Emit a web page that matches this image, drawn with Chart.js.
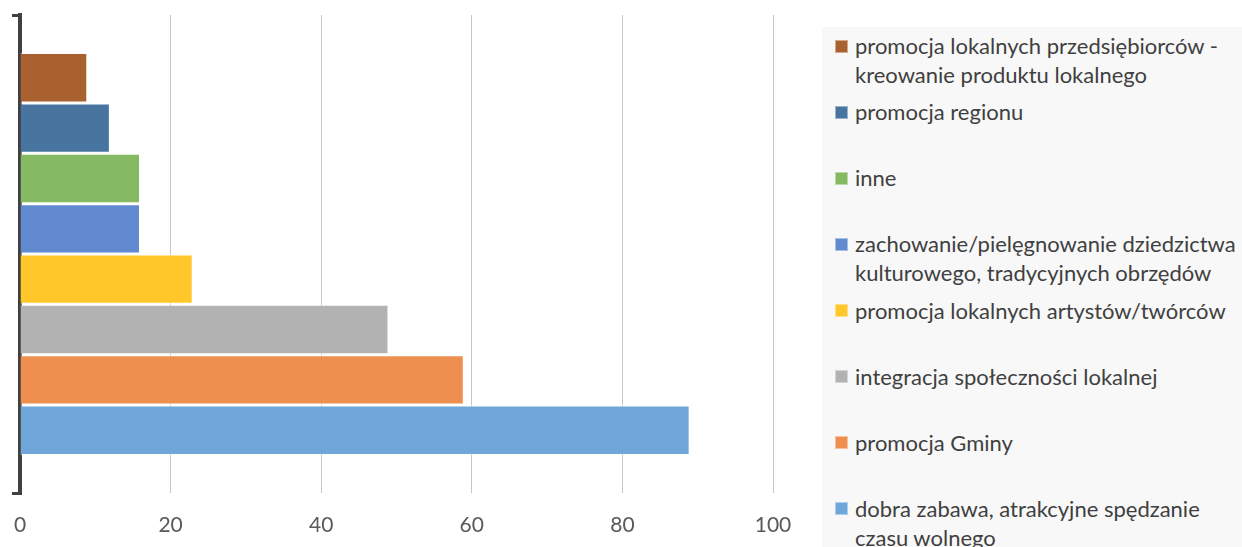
<!DOCTYPE html>
<html>
<head>
<meta charset="utf-8">
<script src="https://cdn.jsdelivr.net/npm/chart.js@4.4.1/dist/chart.umd.min.js"></script>
<style>
  body { margin: 0; background: #fff; }
  #wrap { position: relative; width: 1242px; height: 547px; overflow: hidden; }
  #myChart { position: absolute; left: 0; top: 0; }
  #legend {
    position: absolute; left: 822px; top: 27px; width: 420px; height: 520px;
    background: #f8f8f8; font-family: Lato, sans-serif; font-size: 22px;
    color: #404040; line-height: 29px;
  }
  .item { position: relative; height: 66.14px; box-sizing: border-box; padding: 4px 0 0 33px; white-space: nowrap; }
  .box { position: absolute; left: 13px; top: 12.5px; width: 13px; height: 13px; box-sizing: border-box; border: 1px solid rgba(255,255,255,0.45); }
</style>
</head>
<body>
<div id="wrap">
  <canvas id="myChart" width="1242" height="547"></canvas>
  <div id="legend"></div>
</div>
<script>
// one category, each answer is its own dataset (top to bottom)
var labels = [
  ["promocja lokalnych przedsiębiorców -", "kreowanie produktu lokalnego"],
  ["promocja regionu"],
  ["inne"],
  ["zachowanie/pielęgnowanie dziedzictwa", "kulturowego, tradycyjnych obrzędów"],
  ["promocja lokalnych artystów/twórców"],
  ["integracja społeczności lokalnej"],
  ["promocja Gminy"],
  ["dobra zabawa, atrakcyjne spędzanie", "czasu wolnego"]
];
var values = [9, 12, 16, 16, 23, 49, 59, 89];
var barColors = ["#a9622f", "#4775a0", "#85b962", "#628ad0", "#ffc729", "#b2b2b2", "#ee8f4f", "#70a7da"];
var xTicks = [0, 20, 40, 60, 80, 100];

var datasets = [];
for (var i = 0; i < values.length; i++) {
  datasets.push({
    label: labels[i].join(" "),
    data: [values[i]],
    backgroundColor: barColors[i],
    borderColor: "rgba(255,255,255,0.45)",
    borderWidth: 1.5,
    categoryPercentage: 0.843,
    barPercentage: 1
  });
}

var ctx = document.getElementById("myChart");
var myChart = new Chart(ctx, {
  type: "bar",
  data: { labels: [""], datasets: datasets },
  options: {
    indexAxis: "y",
    responsive: false,
    animation: false,
    layout: { padding: { left: 12, top: 15, right: 469, bottom: 9 } },
    plugins: { legend: { display: false }, tooltip: { enabled: false } },
    scales: {
      x: {
        min: xTicks[0], max: xTicks[xTicks.length - 1],
        z: 1,
        afterBuildTicks: function (axis) { axis.ticks = xTicks.map(function (v) { return { value: v }; }); },
        afterFit: function (axis) { axis.height = 45; axis.paddingLeft = 0; axis.paddingRight = 0; },
        grid: { color: "rgba(128,128,128,0.45)", lineWidth: 1, drawTicks: false },
        border: { display: false },
        ticks: { padding: 20, color: "#595959", font: { family: "Lato", size: 21 } }
      },
      y: {
        z: 2,
        ticks: { display: false },
        grid: { drawOnChartArea: false, drawTicks: true, tickLength: 8, tickWidth: 3, lineWidth: 3, color: "#404040" },
        border: { display: true, width: 4, color: "#404040" }
      }
    }
  }
});

// legend on the right
var leg = document.getElementById("legend");
for (var j = 0; j < labels.length; j++) {
  var it = document.createElement("div");
  it.className = "item";
  var b = document.createElement("span");
  b.className = "box";
  b.style.background = barColors[j];
  it.appendChild(b);
  it.appendChild(document.createTextNode(labels[j][0]));
  for (var k = 1; k < labels[j].length; k++) {
    it.appendChild(document.createElement("br"));
    it.appendChild(document.createTextNode(labels[j][k]));
  }
  leg.appendChild(it);
}
</script>
</body>
</html>
